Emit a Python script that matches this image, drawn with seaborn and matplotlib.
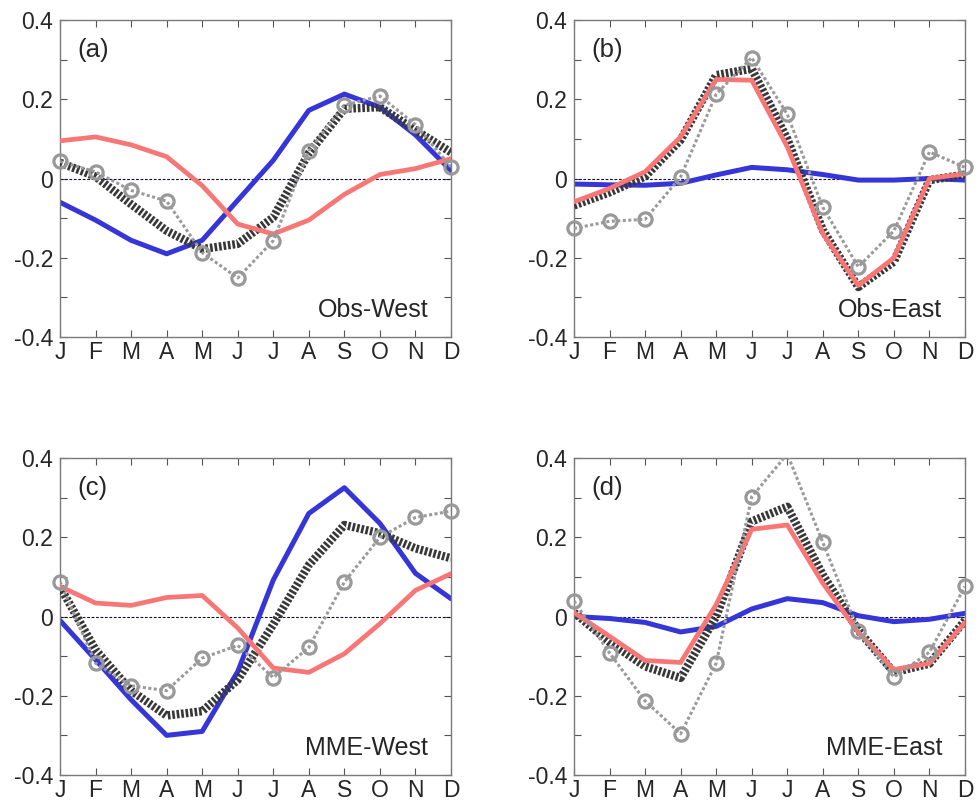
import numpy as np
import pandas as pd
import matplotlib
matplotlib.use("Agg")
import matplotlib.pyplot as plt
import seaborn as sns

months = ["J", "F", "M", "A", "M", "J", "J", "A", "S", "O", "N", "D"]
panel_labels = ["(a)", "(b)", "(c)", "(d)"]
panel_titles = ["Obs-West", "Obs-East", "MME-West", "MME-East"]

# Series per panel: blue solid, red solid, black thick dotted, gray dotted with circles
blue_a = [-0.06, -0.105, -0.156, -0.19, -0.156, -0.055, 0.046, 0.172, 0.213, 0.18, 0.11, 0.02]
red_a = [0.095, 0.105, 0.085, 0.055, -0.018, -0.115, -0.14, -0.105, -0.04, 0.01, 0.025, 0.05]
black_a = [0.04, 0.005, -0.065, -0.132, -0.178, -0.165, -0.098, 0.064, 0.176, 0.18, 0.122, 0.066]
gray_a = [0.043, 0.017, -0.03, -0.057, -0.187, -0.251, -0.157, 0.07, 0.185, 0.208, 0.136, 0.029]

blue_b = [-0.014, -0.016, -0.017, -0.012, 0.009, 0.028, 0.022, 0.01, -0.004, -0.004, 0.0, -0.004]
red_b = [-0.059, -0.025, 0.017, 0.105, 0.25, 0.248, 0.08, -0.139, -0.27, -0.2, 0.0, 0.012]
black_b = [-0.068, -0.035, 0.005, 0.097, 0.261, 0.277, 0.1, -0.13, -0.274, -0.21, -0.004, 0.01]
gray_b = [-0.126, -0.108, -0.103, 0.004, 0.213, 0.305, 0.162, -0.073, -0.223, -0.132, 0.067, 0.028]

blue_c = [-0.01, -0.109, -0.21, -0.3, -0.29, -0.139, 0.092, 0.26, 0.325, 0.235, 0.109, 0.045]
red_c = [0.076, 0.034, 0.028, 0.048, 0.053, -0.029, -0.13, -0.141, -0.094, -0.018, 0.066, 0.108]
black_c = [0.075, -0.084, -0.187, -0.25, -0.239, -0.16, -0.02, 0.13, 0.231, 0.21, 0.172, 0.147]
gray_c = [0.088, -0.118, -0.175, -0.187, -0.105, -0.073, -0.154, -0.078, 0.087, 0.2, 0.25, 0.266]

blue_d = [0.0, -0.005, -0.015, -0.039, -0.025, 0.019, 0.045, 0.035, 0.002, -0.013, -0.007, 0.008]
red_d = [0.01, -0.05, -0.111, -0.116, 0.03, 0.22, 0.231, 0.084, -0.04, -0.134, -0.118, -0.015]
black_d = [0.01, -0.065, -0.126, -0.155, 0.0, 0.24, 0.277, 0.105, -0.035, -0.141, -0.119, -0.01]
gray_d = [0.039, -0.092, -0.213, -0.296, -0.118, 0.302, 0.41, 0.187, -0.036, -0.153, -0.09, 0.076]

panels = [
    (blue_a, red_a, black_a, gray_a),
    (blue_b, red_b, black_b, gray_b),
    (blue_c, red_c, black_c, gray_c),
    (blue_d, red_d, black_d, gray_d),
]

sns.set_style("ticks")
plt.rcParams["font.family"] = ["Liberation Sans", "DejaVu Sans"]

fig = plt.figure(figsize=(9.78, 8.08), dpi=100)

W, H = 978.0, 808.0
lefts = [60, 574, 60, 574]
tops = [20, 20, 458, 458]
aw, ah = 391, 317

x = np.arange(12)
yticks = np.round(np.arange(-0.4, 0.41, 0.1), 2)
ylabels = []
for v in yticks:
    if abs(v) < 1e-9:
        ylabels.append("0")
    elif abs(round(v * 10)) % 2 == 0:
        ylabels.append(f"{v:.1f}")
    else:
        ylabels.append("")

for i, (blue, red, black, gray) in enumerate(panels):
    l, t = lefts[i], tops[i]
    ax = fig.add_axes([l / W, 1 - (t + ah) / H, aw / W, ah / H])
    ax.axhline(0, color="#101030", lw=0.8, ls=(0, (2.5, 1.5)), zorder=1)

    sns.lineplot(x=x, y=blue, ax=ax, color="#3535d8", lw=3.6, zorder=2)
    sns.lineplot(x=x, y=black, ax=ax, color="#383838", lw=6.0,
                 linestyle=(0, (0.32, 0.22)), dash_capstyle="butt", zorder=3)
    sns.lineplot(x=x, y=red, ax=ax, color="#f87676", lw=3.4, zorder=4)
    sns.lineplot(x=x, y=gray, ax=ax, color="#9a9a9a", lw=2.2,
                 linestyle=(0, (1, 0.8)), dash_capstyle="butt", zorder=5)
    gx = [xx for xx, g in zip(x, gray) if -0.4 <= g <= 0.4]
    gy = [g for g in gray if -0.4 <= g <= 0.4]
    ax.plot(gx, gy, ls="none", marker="o", ms=9.5, mfc="none", mec="#999999",
            mew=2.3, zorder=6, clip_on=False)

    ax.set_xlim(0, 11)
    ax.set_ylim(-0.4, 0.4)
    ax.set_xticks(x)
    ax.set_xticklabels(months)
    ax.set_yticks(yticks)
    ax.set_yticklabels(ylabels)
    ax.tick_params(direction="in", top=True, right=True, length=5, width=0.8,
                   color="#555555", labelsize=16.5, pad=5)
    ax.tick_params(axis="x", pad=3)
    for s in ax.spines.values():
        s.set_color("#7a7a7a")
        s.set_linewidth(1.0)
    ax.set_xlabel("")
    ax.set_ylabel("")
    ax.text(0.045, 0.905, panel_labels[i], transform=ax.transAxes,
            fontsize=18.5, ha="left", va="center")
    ax.text(0.942, 0.085, panel_titles[i], transform=ax.transAxes,
            fontsize=18, ha="right", va="center")

fig.savefig("out.png", dpi=100)
